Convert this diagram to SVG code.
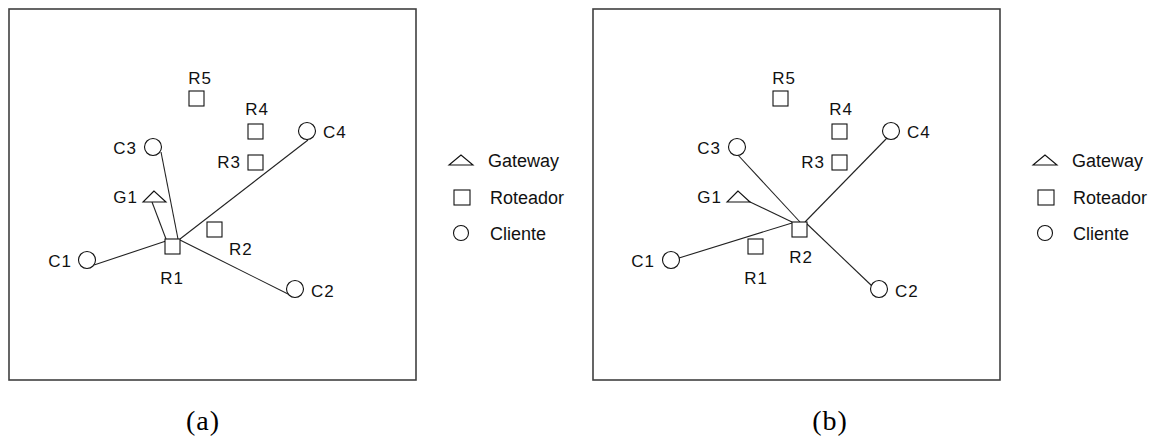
<svg xmlns="http://www.w3.org/2000/svg" width="1159" height="436" viewBox="0 0 1159 436">
<style>
.frame{fill:none;stroke:#404040;stroke-width:1.6}
.sh{fill:#fff;stroke:#111;stroke-width:1.1}
.ln{stroke:#222;stroke-width:1.1;fill:none}
.lb{font-family:"Liberation Sans",Arial,sans-serif;font-size:17px;letter-spacing:1px;fill:#111}
.lg{font-family:"Liberation Sans",Arial,sans-serif;font-size:18px;fill:#111}
.cap{font-family:"Liberation Serif","Times New Roman",serif;font-size:28px;fill:#000;text-anchor:middle;letter-spacing:1px}
.m{text-anchor:middle}
.e{text-anchor:end}
</style>
<rect width="1159" height="436" fill="#fff"/>

<!-- Panel (a) -->
<rect class="frame" x="9" y="9" width="407" height="371"/>
<g id="a-connectors">
<line class="ln" x1="94" y1="265" x2="166" y2="241"/>
<line class="ln" x1="152" y1="202" x2="166" y2="239"/>
<line class="ln" x1="161" y1="152" x2="178" y2="239"/>
<line class="ln" x1="308" y1="140" x2="180" y2="239"/>
<line class="ln" x1="180" y1="240" x2="290" y2="295"/>
</g>
<g id="a-R5"><rect class="sh" x="189" y="91" width="15" height="15"/><text class="lb m" x="200" y="84">R5</text></g>
<g id="a-R4"><rect class="sh" x="248" y="124" width="15" height="15"/><text class="lb m" x="257" y="115">R4</text></g>
<g id="a-R3"><rect class="sh" x="248" y="155" width="15" height="15"/><text class="lb e" x="241" y="168">R3</text></g>
<g id="a-R2"><rect class="sh" x="207" y="222" width="15" height="15"/><text class="lb" x="229" y="255">R2</text></g>
<g id="a-R1"><rect class="sh" x="165" y="239" width="15" height="15"/><text class="lb m" x="172" y="284">R1</text></g>
<g id="a-G1"><polygon class="sh" points="154,191 143,202 166,202"/><text class="lb e" x="138" y="203">G1</text></g>
<g id="a-C1"><circle class="sh" cx="87" cy="260" r="8.5"/><text class="lb e" x="72" y="267">C1</text></g>
<g id="a-C2"><circle class="sh" cx="295" cy="289" r="8.5"/><text class="lb" x="311" y="297">C2</text></g>
<g id="a-C3"><circle class="sh" cx="153" cy="147" r="8.5"/><text class="lb e" x="137" y="154">C3</text></g>
<g id="a-C4"><circle class="sh" cx="307" cy="131" r="8.5"/><text class="lb" x="323" y="138">C4</text></g>
<g id="a-legend">
<polygon class="sh" points="461,155 449,165 473,165"/><text class="lg" x="488" y="167">Gateway</text>
<rect class="sh" x="454" y="190" width="16" height="15"/><text class="lg" x="490" y="204">Roteador</text>
<circle class="sh" cx="461" cy="233" r="7.5"/><text class="lg" x="490" y="240">Cliente</text>
</g>
<text class="cap" x="203" y="430">(a)</text>

<!-- Panel (b) -->
<rect class="frame" x="593" y="9" width="407" height="371"/>
<g id="b-connectors">
<line class="ln" x1="679" y1="258" x2="792" y2="223"/>
<line class="ln" x1="748" y1="201" x2="792" y2="222"/>
<line class="ln" x1="737" y1="154" x2="800" y2="222"/>
<line class="ln" x1="887" y1="138" x2="805" y2="222"/>
<line class="ln" x1="806" y1="223" x2="872" y2="286"/>
</g>
<g id="b-R5"><rect class="sh" x="773" y="91" width="15" height="15"/><text class="lb m" x="784" y="84">R5</text></g>
<g id="b-R4"><rect class="sh" x="832" y="124" width="15" height="15"/><text class="lb m" x="841" y="115">R4</text></g>
<g id="b-R3"><rect class="sh" x="832" y="155" width="15" height="15"/><text class="lb e" x="825" y="168">R3</text></g>
<g id="b-R2"><rect class="sh" x="792" y="222" width="15" height="15"/><text class="lb m" x="801" y="263">R2</text></g>
<g id="b-R1"><rect class="sh" x="748" y="239" width="15" height="15"/><text class="lb m" x="756" y="284">R1</text></g>
<g id="b-G1"><polygon class="sh" points="738,191 727,202 750,202"/><text class="lb e" x="722" y="203">G1</text></g>
<g id="b-C1"><circle class="sh" cx="671" cy="260" r="8.5"/><text class="lb e" x="655" y="267">C1</text></g>
<g id="b-C2"><circle class="sh" cx="879" cy="289" r="8.5"/><text class="lb" x="895" y="297">C2</text></g>
<g id="b-C3"><circle class="sh" cx="737" cy="147" r="8.5"/><text class="lb e" x="721" y="154">C3</text></g>
<g id="b-C4"><circle class="sh" cx="891" cy="131" r="8.5"/><text class="lb" x="907" y="138">C4</text></g>
<g id="b-legend">
<polygon class="sh" points="1045,155 1033,165 1057,165"/><text class="lg" x="1072" y="167">Gateway</text>
<rect class="sh" x="1038" y="190" width="16" height="15"/><text class="lg" x="1073" y="204">Roteador</text>
<circle class="sh" cx="1045" cy="233" r="7.5"/><text class="lg" x="1073" y="240">Cliente</text>
</g>
<text class="cap" x="830" y="430">(b)</text>
</svg>
